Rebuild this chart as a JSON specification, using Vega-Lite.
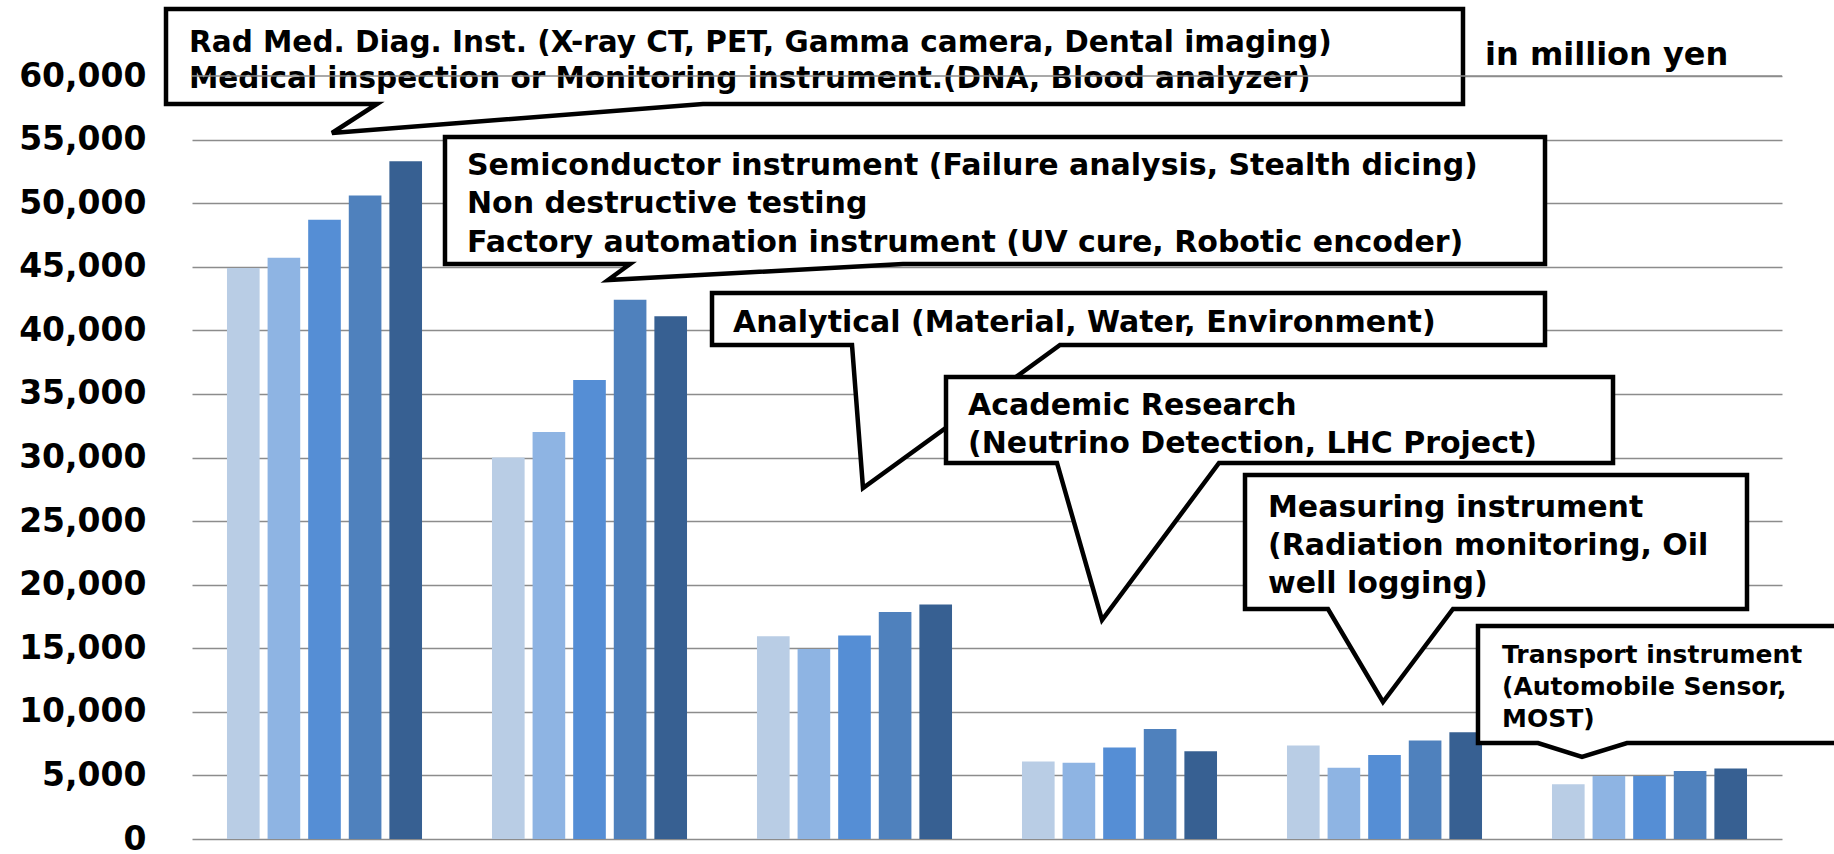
{
  "$schema": "https://vega.github.io/schema/vega-lite/v6.json",
  "width": 1590,
  "height": 763,
  "autosize": {"type": "none"},
  "padding": {"left": 192, "top": 76, "right": 52, "bottom": 15},
  "background": "white",
  "view": {"stroke": null},
  "config": {"text": {"font": "DejaVu Sans", "fontWeight": "bold", "color": "black"}},
  "datasets": {
    "bars": [
      {"category": "Rad Med. Diag.", "year": "Y1", "value": 44900},
      {"category": "Rad Med. Diag.", "year": "Y2", "value": 45700},
      {"category": "Rad Med. Diag.", "year": "Y3", "value": 48700},
      {"category": "Rad Med. Diag.", "year": "Y4", "value": 50600},
      {"category": "Rad Med. Diag.", "year": "Y5", "value": 53300},
      {"category": "Semiconductor", "year": "Y1", "value": 30000},
      {"category": "Semiconductor", "year": "Y2", "value": 32000},
      {"category": "Semiconductor", "year": "Y3", "value": 36100},
      {"category": "Semiconductor", "year": "Y4", "value": 42400},
      {"category": "Semiconductor", "year": "Y5", "value": 41100},
      {"category": "Analytical", "year": "Y1", "value": 15950},
      {"category": "Analytical", "year": "Y2", "value": 14950},
      {"category": "Analytical", "year": "Y3", "value": 16000},
      {"category": "Analytical", "year": "Y4", "value": 17850},
      {"category": "Analytical", "year": "Y5", "value": 18450},
      {"category": "Academic Research", "year": "Y1", "value": 6100},
      {"category": "Academic Research", "year": "Y2", "value": 6000},
      {"category": "Academic Research", "year": "Y3", "value": 7200},
      {"category": "Academic Research", "year": "Y4", "value": 8650},
      {"category": "Academic Research", "year": "Y5", "value": 6900},
      {"category": "Measuring", "year": "Y1", "value": 7350},
      {"category": "Measuring", "year": "Y2", "value": 5600},
      {"category": "Measuring", "year": "Y3", "value": 6600},
      {"category": "Measuring", "year": "Y4", "value": 7750},
      {"category": "Measuring", "year": "Y5", "value": 8400},
      {"category": "Transport", "year": "Y1", "value": 4300},
      {"category": "Transport", "year": "Y2", "value": 4950},
      {"category": "Transport", "year": "Y3", "value": 4950},
      {"category": "Transport", "year": "Y4", "value": 5350},
      {"category": "Transport", "year": "Y5", "value": 5550}
    ],
    "callouts": [
      {"id": "A", "i": 1, "gx": -0.0981, "gy": 65269},
      {"id": "A", "i": 2, "gx": 4.7962, "gy": 65269},
      {"id": "A", "i": 3, "gx": 4.7962, "gy": 57798},
      {"id": "A", "i": 4, "gx": 1.9283, "gy": 57798},
      {"id": "A", "i": 5, "gx": 0.5283, "gy": 55518},
      {"id": "A", "i": 6, "gx": 0.6981, "gy": 57798},
      {"id": "A", "i": 7, "gx": -0.0981, "gy": 57798},
      {"id": "A", "i": 8, "gx": -0.0981, "gy": 65269},
      {"id": "A", "i": 9, "gx": 4.7962, "gy": 65269},
      {"id": "B", "i": 1, "gx": 0.9547, "gy": 55203},
      {"id": "B", "i": 2, "gx": 5.1057, "gy": 55203},
      {"id": "B", "i": 3, "gx": 5.1057, "gy": 45216},
      {"id": "B", "i": 4, "gx": 2.683, "gy": 45216},
      {"id": "B", "i": 5, "gx": 1.5698, "gy": 43958},
      {"id": "B", "i": 6, "gx": 1.6528, "gy": 45216},
      {"id": "B", "i": 7, "gx": 0.9547, "gy": 45216},
      {"id": "B", "i": 8, "gx": 0.9547, "gy": 55203},
      {"id": "B", "i": 9, "gx": 5.1057, "gy": 55203},
      {"id": "C", "i": 1, "gx": 1.9623, "gy": 42936},
      {"id": "C", "i": 2, "gx": 5.1057, "gy": 42936},
      {"id": "C", "i": 3, "gx": 5.1057, "gy": 38847},
      {"id": "C", "i": 4, "gx": 3.2755, "gy": 38847},
      {"id": "C", "i": 5, "gx": 2.5321, "gy": 27602},
      {"id": "C", "i": 6, "gx": 2.4906, "gy": 38847},
      {"id": "C", "i": 7, "gx": 1.9623, "gy": 38847},
      {"id": "C", "i": 8, "gx": 1.9623, "gy": 42936},
      {"id": "C", "i": 9, "gx": 5.1057, "gy": 42936},
      {"id": "D", "i": 1, "gx": 2.8453, "gy": 36330},
      {"id": "D", "i": 2, "gx": 5.3623, "gy": 36330},
      {"id": "D", "i": 3, "gx": 5.3623, "gy": 29568},
      {"id": "D", "i": 4, "gx": 3.8755, "gy": 29568},
      {"id": "D", "i": 5, "gx": 3.434, "gy": 17222},
      {"id": "D", "i": 6, "gx": 3.2642, "gy": 29568},
      {"id": "D", "i": 7, "gx": 2.8453, "gy": 29568},
      {"id": "D", "i": 8, "gx": 2.8453, "gy": 36330},
      {"id": "D", "i": 9, "gx": 5.3623, "gy": 36330},
      {"id": "E", "i": 1, "gx": 3.9736, "gy": 28624},
      {"id": "E", "i": 2, "gx": 5.8679, "gy": 28624},
      {"id": "E", "i": 3, "gx": 5.8679, "gy": 18087},
      {"id": "E", "i": 4, "gx": 4.7585, "gy": 18087},
      {"id": "E", "i": 5, "gx": 4.4943, "gy": 10773},
      {"id": "E", "i": 6, "gx": 4.2868, "gy": 18087},
      {"id": "E", "i": 7, "gx": 3.9736, "gy": 18087},
      {"id": "E", "i": 8, "gx": 3.9736, "gy": 28624},
      {"id": "E", "i": 9, "gx": 5.8679, "gy": 28624},
      {"id": "F", "i": 1, "gx": 4.8528, "gy": 16750},
      {"id": "F", "i": 2, "gx": 6.2566, "gy": 16750},
      {"id": "F", "i": 3, "gx": 6.2566, "gy": 7549},
      {"id": "F", "i": 4, "gx": 5.4151, "gy": 7549},
      {"id": "F", "i": 5, "gx": 5.2453, "gy": 6448},
      {"id": "F", "i": 6, "gx": 5.0792, "gy": 7549},
      {"id": "F", "i": 7, "gx": 4.8528, "gy": 7549},
      {"id": "F", "i": 8, "gx": 4.8528, "gy": 16750},
      {"id": "F", "i": 9, "gx": 6.2566, "gy": 16750}
    ],
    "labels": [
      {"id": "A", "gx": -0.0113, "gy": 61887, "text": "Rad Med. Diag. Inst. (X-ray CT, PET, Gamma camera, Dental imaging)"},
      {"id": "A", "gx": -0.0113, "gy": 59056, "text": "Medical inspection or Monitoring instrument.(DNA, Blood analyzer)"},
      {"id": "U", "gx": 4.8792, "gy": 60865, "text": "in million yen"},
      {"id": "B", "gx": 1.0377, "gy": 52215, "text": "Semiconductor instrument (Failure analysis, Stealth dicing)"},
      {"id": "B", "gx": 1.0377, "gy": 49227, "text": "Non destructive testing"},
      {"id": "B", "gx": 1.0377, "gy": 46160, "text": "Factory automation instrument (UV cure, Robotic encoder)"},
      {"id": "C", "gx": 2.0415, "gy": 39869, "text": "Analytical (Material, Water, Environment)"},
      {"id": "D", "gx": 2.9283, "gy": 33342, "text": "Academic Research"},
      {"id": "D", "gx": 2.9283, "gy": 30354, "text": "(Neutrino Detection, LHC Project)"},
      {"id": "E", "gx": 4.0604, "gy": 25321, "text": "Measuring instrument"},
      {"id": "E", "gx": 4.0604, "gy": 22333, "text": "(Radiation monitoring, Oil"},
      {"id": "E", "gx": 4.0604, "gy": 19345, "text": "well logging)"},
      {"id": "F", "gx": 4.9434, "gy": 13840, "text": "Transport instrument"},
      {"id": "F", "gx": 4.9434, "gy": 11324, "text": "(Automobile Sensor,"},
      {"id": "F", "gx": 4.9434, "gy": 8807, "text": "MOST)"}
    ]
  },
  "resolve": {"scale": {"x": "independent"}},
  "layer": [
    {
      "data": {"name": "bars"},
      "mark": {"type": "bar"},
      "encoding": {
        "x": {"field": "category", "type": "nominal", "sort": null, "axis": null,
              "scale": {"paddingInner": 0.264, "paddingOuter": 0.132}},
        "xOffset": {"field": "year", "type": "nominal", "sort": null,
                    "scale": {"paddingInner": 0.196, "paddingOuter": 0}},
        "y": {"field": "value", "type": "quantitative", "title": null,
              "scale": {"domain": [0, 60000], "nice": false},
              "axis": {"values": [0,5000,10000,15000,20000,25000,30000,35000,40000,45000,50000,55000,60000],
                       "format": ",d", "grid": true, "gridColor": "#8c8c8c", "gridWidth": 1.5,
                       "domain": false, "ticks": false, "labelPadding": 46, "title": null,
                       "labelFont": "DejaVu Sans", "labelFontWeight": "bold", "labelFontSize": 33,
                       "labelColor": "black", "labelBaseline": "middle"}},
        "color": {"field": "year", "type": "nominal", "legend": null,
                  "scale": {"range": ["#b9cde5", "#8eb4e3", "#558ed5", "#4f81bd", "#376092"]}}
      }
    },
    {
      "data": {"name": "callouts"},
      "transform": [{"filter": "datum.id === 'A'"}],
      "mark": {"type": "line", "fill": "white", "stroke": "black", "strokeWidth": 4.5, "strokeJoin": "miter"},
      "encoding": {
        "x": {"field": "gx", "type": "quantitative", "axis": null, "scale": {"domain": [0, 6], "nice": false, "zero": false}},
        "y": {"field": "gy", "type": "quantitative", "title": null, "scale": {"domain": [0, 60000], "nice": false}},
        "detail": {"field": "id", "type": "nominal"},
        "order": {"field": "i", "type": "quantitative"}
      }
    },
    {
      "data": {"name": "labels"},
      "transform": [{"filter": "datum.id === 'A'"}],
      "mark": {"type": "text", "align": "left", "baseline": "alphabetic", "fontSize": 29.5},
      "encoding": {
        "x": {"field": "gx", "type": "quantitative", "axis": null, "scale": {"domain": [0, 6], "nice": false, "zero": false}},
        "y": {"field": "gy", "type": "quantitative", "title": null, "scale": {"domain": [0, 60000], "nice": false}},
        "text": {"field": "text"}
      }
    },
    {
      "data": {"values": [{"lvl": 60000}]},
      "mark": {"type": "rule", "color": "#8c8c8c", "strokeWidth": 1.5},
      "encoding": {
        "y": {"field": "lvl", "type": "quantitative", "title": null, "scale": {"domain": [0, 60000], "nice": false}}
      }
    },
    {
      "data": {"name": "callouts"},
      "transform": [{"filter": "datum.id !== 'A'"}],
      "mark": {"type": "line", "fill": "white", "stroke": "black", "strokeWidth": 4.5, "strokeJoin": "miter"},
      "encoding": {
        "x": {"field": "gx", "type": "quantitative", "axis": null, "scale": {"domain": [0, 6], "nice": false, "zero": false}},
        "y": {"field": "gy", "type": "quantitative", "title": null, "scale": {"domain": [0, 60000], "nice": false}},
        "detail": {"field": "id", "type": "nominal"},
        "order": {"field": "i", "type": "quantitative"}
      }
    },
    {
      "data": {"name": "labels"},
      "transform": [{"filter": "datum.id === 'B' || datum.id === 'C' || datum.id === 'D' || datum.id === 'E'"}],
      "mark": {"type": "text", "align": "left", "baseline": "alphabetic", "fontSize": 30},
      "encoding": {
        "x": {"field": "gx", "type": "quantitative", "axis": null, "scale": {"domain": [0, 6], "nice": false, "zero": false}},
        "y": {"field": "gy", "type": "quantitative", "title": null, "scale": {"domain": [0, 60000], "nice": false}},
        "text": {"field": "text"}
      }
    },
    {
      "data": {"name": "labels"},
      "transform": [{"filter": "datum.id === 'F'"}],
      "mark": {"type": "text", "align": "left", "baseline": "alphabetic", "fontSize": 25},
      "encoding": {
        "x": {"field": "gx", "type": "quantitative", "axis": null, "scale": {"domain": [0, 6], "nice": false, "zero": false}},
        "y": {"field": "gy", "type": "quantitative", "title": null, "scale": {"domain": [0, 60000], "nice": false}},
        "text": {"field": "text"}
      }
    },
    {
      "data": {"name": "labels"},
      "transform": [{"filter": "datum.id === 'U'"}],
      "mark": {"type": "text", "align": "left", "baseline": "alphabetic", "fontSize": 32},
      "encoding": {
        "x": {"field": "gx", "type": "quantitative", "axis": null, "scale": {"domain": [0, 6], "nice": false, "zero": false}},
        "y": {"field": "gy", "type": "quantitative", "title": null, "scale": {"domain": [0, 60000], "nice": false}},
        "text": {"field": "text"}
      }
    }
  ]
}
